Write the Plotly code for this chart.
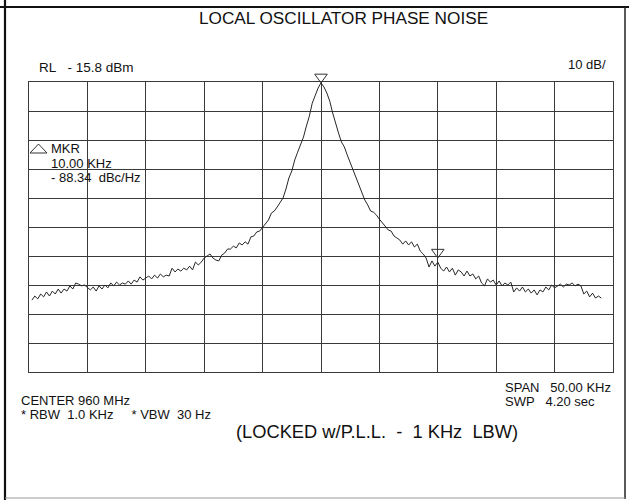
import numpy as np
import plotly.graph_objects as go

# ---- data (offset from 960 MHz centre, kHz; level in dBm) ----
freq_khz = np.round(np.arange(-24.75, 24.01, 0.25), 2)

level_dbm = [
    -91.0, -89.6, -90.6, -88.9, -89.9, -88.2, -89.6, -87.9, -88.9, -87.2,
    -88.6, -87.2, -87.9, -86.1, -87.2, -85.1, -85.5, -86.1, -85.8, -86.8,
    -87.5, -86.5, -87.9, -86.1, -87.2, -85.8, -86.8, -85.1, -86.1, -84.8,
    -85.8, -85.1, -85.5, -84.4, -85.5, -84.1, -84.8, -83.0, -84.1, -83.4,
    -82.7, -83.7, -82.4, -83.4, -82.0, -83.0, -82.4, -82.7, -80.0, -81.3,
    -80.3, -81.0, -80.0, -80.6, -79.3, -80.6, -77.9, -78.9, -77.9, -76.5,
    -75.8, -75.1, -76.5, -77.2, -77.5, -75.5, -74.8, -73.4, -73.4, -72.4,
    -73.0, -71.3, -72.0, -70.9, -71.7, -69.2, -68.9, -67.5, -67.2, -65.8,
    -64.8, -63.4, -61.0, -60.3, -58.9, -57.5, -55.8, -52.7, -48.9, -46.5,
    -42.7, -40.0, -37.6, -34.8, -31.0, -27.6, -23.1, -20.3, -17.9, -16.1,
    -17.5, -19.6, -22.4, -26.5, -30.3, -33.4, -36.5, -38.2, -41.0, -43.7,
    -46.2, -48.6, -51.3, -54.1, -56.5, -58.2, -60.3, -60.7, -61.7, -63.1,
    -64.4, -65.5, -66.8, -67.2, -68.9, -69.6, -70.3, -71.7, -70.6, -72.0,
    -70.9, -72.7, -71.7, -74.1, -75.1, -76.5, -79.6, -77.5, -79.3, -77.9,
    -80.0, -81.0, -79.6, -81.3, -80.0, -82.4, -80.6, -81.3, -82.7, -81.0,
    -82.7, -82.0, -83.7, -82.7, -85.1, -86.1, -83.7, -84.8, -84.1, -85.8,
    -84.4, -86.1, -85.1, -85.8, -84.8, -88.2, -86.8, -87.9, -86.5, -88.2,
    -87.2, -88.6, -87.5, -89.2, -87.5, -88.2, -86.5, -87.5, -85.8, -86.8,
    -86.1, -85.5, -86.5, -85.5, -85.8, -85.1, -86.1, -85.5, -86.1, -88.9,
    -87.9, -89.9, -88.6, -90.3, -89.6, -90.3,
]
assert len(level_dbm) == len(freq_khz)

marker_khz = [0.0, 10.0]
marker_dbm = [-16.1, -76.5]

ref_level_dbm = -15.8
db_per_div = 10
n_div = 10
span_khz = 50.0

# ---- figure ----
FONT = "Liberation Sans, Arial, Helvetica, sans-serif"
INK = "#111111"
GRID = "#3a3a3a"

W, H = 629, 500
L, R, T, B = 29, 16, 82, 128
PW, PH = W - L - R, H - T - B


def px(x):
    return (x - L) / PW


def py(y):
    return (H - B - y) / PH


fig = go.Figure()

fig.add_trace(go.Scatter(
    x=freq_khz, y=level_dbm, mode="lines",
    line=dict(color="#262626", width=1), hoverinfo="skip", showlegend=False,
))

bottom = ref_level_dbm - db_per_div * n_div
x_rng = [-span_khz / 2, span_khz / 2]
y_rng = [bottom, ref_level_dbm]

axis_common = dict(
    showticklabels=False, ticks="", showgrid=True, gridcolor=GRID, gridwidth=1,
    zeroline=False, showline=True, linecolor=GRID, linewidth=1, mirror=True,
    fixedrange=True,
)
fig.update_xaxes(range=x_rng, tick0=x_rng[0], dtick=span_khz / n_div, **axis_common)
fig.update_yaxes(range=y_rng, tick0=bottom, dtick=db_per_div, **axis_common)

# marker triangles (open, pointing down, tip on the marker point); drawn as
# pixel-sized shapes anchored in the axis domain so they are not clipped
for mk, mv in zip(marker_khz, marker_dbm):
    fig.add_shape(
        type="path", xref="x domain", yref="y domain",
        xsizemode="pixel", ysizemode="pixel",
        xanchor=(mk - x_rng[0]) / (x_rng[1] - x_rng[0]),
        yanchor=(mv - y_rng[0]) / (y_rng[1] - y_rng[0]),
        path="M -6.3,8.7 L 6.3,8.7 L 0,0 Z",
        line=dict(color="#333333", width=1), fillcolor="rgba(0,0,0,0)",
    )

NB = "\u00a0"
anns = [
    ("LOCAL OSCILLATOR PHASE NOISE", 343.5, 18, "center", 17.2),
    (f"RL{NB*3}- 15.8 dBm", 38, 68, "left", 13.5),
    ("10 dB/", 607, 64, "right", 13),
    ("MKR", 50, 148, "left", 13),
    ("10.00 KHz", 50, 163.5, "left", 13),
    (f"- 88.34{NB*2}dBc/Hz", 50, 177, "left", 13),
    ("CENTER 960 MHz", 20, 400, "left", 13),
    (f"* RBW{NB*2}1.0 KHz{NB*5}* VBW{NB*2}30 Hz", 20, 414, "left", 13),
    (f"SPAN{NB*3}50.00 KHz", 504, 387.5, "left", 13),
    (f"SWP{NB*3}4.20 sec", 504, 401, "left", 13),
    (f"(LOCKED w/P.L.L.{NB*2}-{NB*2}1 KHz{NB*2}LBW)", 376.5, 431, "center", 18.3),
]
for text, x, y, anchor, size in anns:
    fig.add_annotation(
        text=text, x=px(x), y=py(y), xref="paper", yref="paper",
        xanchor=anchor, yanchor="middle", showarrow=False, borderpad=0,
        font=dict(family=FONT, size=size, color=INK),
    )

# delta-marker symbol next to "MKR"
fig.add_shape(
    type="path", xref="paper", yref="paper",
    path=f"M {px(30)},{py(153)} L {px(38.5)},{py(144)} L {px(47)},{py(153)} Z",
    line=dict(color="#333333", width=1), fillcolor="rgba(0,0,0,0)",
)

# page frame
frame = [
    (5, 0, 5, 500, 2.2, "#111111"),
    (0, 7, 629, 7, 2.2, "#111111"),
    (625, 7, 625, 499, 1.5, "#222222"),
    (5, 498, 625, 498, 1, "#9a9a9a"),
]
for x0, y0, x1, y1, w, c in frame:
    fig.add_shape(type="line", xref="paper", yref="paper",
                  x0=px(x0), y0=py(y0), x1=px(x1), y1=py(y1),
                  line=dict(color=c, width=w))

fig.update_layout(
    width=W, height=H, autosize=False,
    margin=dict(l=L, r=R, t=T, b=B, pad=0),
    paper_bgcolor="white", plot_bgcolor="white",
    font=dict(family=FONT, color=INK),
    showlegend=False,
)

fig.write_html(
    "out.html",
    config={"displayModeBar": False, "staticPlot": True},
    post_script="document.body.style.margin='0';document.body.style.overflow='hidden';",
)
